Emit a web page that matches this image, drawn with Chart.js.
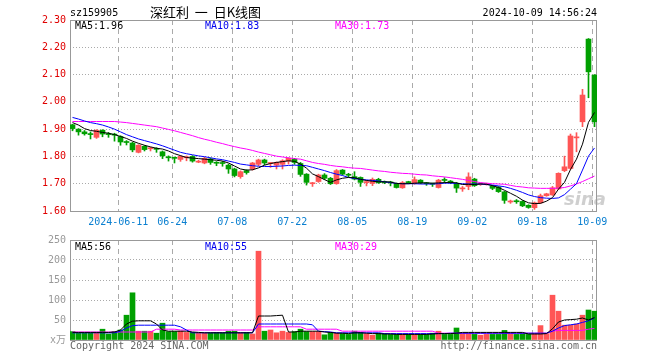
<!DOCTYPE html>
<html>
<head>
<meta charset="utf-8">
<script src="https://cdn.jsdelivr.net/npm/chart.js@4.4.1/dist/chart.umd.min.js"></script>
<style>
  body { margin: 0; background: #fff; }
  #wrap { position: relative; width: 660px; height: 360px; overflow: hidden; background: #fff; }
  canvas { position: absolute; left: 0; }
  .t { position: absolute; font: 10px/10px 'DejaVu Sans Mono', monospace; white-space: pre; color: #000; }
</style>
</head>
<body>
<div id="wrap">
  <canvas id="kline" width="660" height="230" style="top:0"></canvas>
  <canvas id="vol" width="660" height="130" style="top:230px"></canvas>
  <div class="t" style="left:70px;top:8px">sz159905</div>
  <div class="t" style="left:150px;top:5px;font:13px/13px 'Noto Sans CJK SC', sans-serif">深红利  一  日K线图</div>
  <div class="t" style="right:63px;top:8px">2024-10-09 14:56:24</div>
  <div class="t" id="pMa5" style="left:75px;top:21px"></div>
  <div class="t" id="pMa10" style="left:205px;top:21px;color:#0000ee"></div>
  <div class="t" id="pMa30" style="left:335px;top:21px;color:#ff00ff"></div>
  <div class="t" id="vMa5" style="left:75px;top:242px"></div>
  <div class="t" id="vMa10" style="left:205px;top:242px;color:#0000ee"></div>
  <div class="t" id="vMa30" style="left:335px;top:242px;color:#ff00ff"></div>
  <div class="t" style="left:70px;top:341px;color:#666">Copyright 2024 SINA.COM</div>
  <div class="t" style="right:63px;top:341px;color:#666">http://finance.sina.com.cn</div>
  <div class="t" style="left:564px;top:190px;font:italic bold 18px/18px 'DejaVu Sans', sans-serif;color:rgba(160,160,160,0.5)">sina</div>
</div>
<script>
// trading days shown
const dates = [
  '2024-05-29','2024-05-30','2024-05-31','2024-06-03','2024-06-04','2024-06-05','2024-06-06','2024-06-07','2024-06-11','2024-06-12',
  '2024-06-13','2024-06-14','2024-06-17','2024-06-18','2024-06-19','2024-06-20','2024-06-21','2024-06-24','2024-06-25','2024-06-26',
  '2024-06-27','2024-06-28','2024-07-01','2024-07-02','2024-07-03','2024-07-04','2024-07-05','2024-07-08','2024-07-09','2024-07-10',
  '2024-07-11','2024-07-12','2024-07-15','2024-07-16','2024-07-17','2024-07-18','2024-07-19','2024-07-22','2024-07-23','2024-07-24',
  '2024-07-25','2024-07-26','2024-07-29','2024-07-30','2024-07-31','2024-08-01','2024-08-02','2024-08-05','2024-08-06','2024-08-07',
  '2024-08-08','2024-08-09','2024-08-12','2024-08-13','2024-08-14','2024-08-15','2024-08-16','2024-08-19','2024-08-20','2024-08-21',
  '2024-08-22','2024-08-23','2024-08-26','2024-08-27','2024-08-28','2024-08-29','2024-08-30','2024-09-02','2024-09-03','2024-09-04',
  '2024-09-05','2024-09-06','2024-09-09','2024-09-10','2024-09-11','2024-09-12','2024-09-13','2024-09-18','2024-09-19','2024-09-20',
  '2024-09-23','2024-09-24','2024-09-25','2024-09-26','2024-09-27','2024-09-30','2024-10-08','2024-10-09'
];

const open = [
  1.916,1.900,1.890,1.883,1.870,1.896,1.882,1.880,1.873,1.853,
  1.849,1.815,1.837,1.828,1.829,1.817,1.797,1.795,1.789,1.795,
  1.800,1.779,1.776,1.791,1.777,1.776,1.768,1.754,1.726,1.748,
  1.754,1.771,1.787,1.774,1.768,1.771,1.783,1.790,1.774,1.735,
  1.700,1.708,1.732,1.720,1.700,1.750,1.733,1.726,1.723,1.704,
  1.701,1.716,1.706,1.704,1.701,1.685,1.705,1.700,1.713,1.702,
  1.700,1.686,1.714,1.708,1.702,1.681,1.690,1.717,1.698,1.697,
  1.692,1.688,1.670,1.633,1.636,1.635,1.621,1.612,1.630,1.656,
  1.659,1.681,1.748,1.756,1.868,1.927,2.230,2.098
];
const high = [
  1.918,1.902,1.895,1.890,1.898,1.898,1.888,1.885,1.876,1.858,
  1.852,1.843,1.840,1.834,1.832,1.820,1.802,1.798,1.803,1.802,
  1.803,1.786,1.797,1.794,1.781,1.782,1.772,1.757,1.747,1.751,
  1.778,1.790,1.790,1.778,1.780,1.788,1.795,1.793,1.778,1.737,
  1.705,1.735,1.737,1.723,1.752,1.752,1.738,1.744,1.725,1.712,
  1.721,1.720,1.710,1.709,1.703,1.708,1.709,1.725,1.715,1.705,
  1.702,1.716,1.722,1.712,1.705,1.690,1.740,1.720,1.703,1.702,
  1.694,1.690,1.672,1.640,1.642,1.638,1.623,1.633,1.662,1.665,
  1.690,1.740,1.801,1.882,1.887,2.046,2.232,2.100
];
const low = [
  1.894,1.878,1.878,1.864,1.866,1.872,1.870,1.856,1.841,1.842,
  1.817,1.813,1.820,1.820,1.815,1.792,1.783,1.776,1.782,1.784,
  1.779,1.777,1.773,1.771,1.766,1.764,1.738,1.725,1.720,1.735,
  1.750,1.766,1.769,1.760,1.754,1.754,1.772,1.771,1.727,1.695,
  1.690,1.705,1.715,1.697,1.698,1.732,1.725,1.714,1.690,1.692,
  1.693,1.701,1.700,1.692,1.684,1.683,1.700,1.698,1.700,1.694,
  1.690,1.684,1.703,1.700,1.668,1.672,1.678,1.690,1.694,1.695,
  1.678,1.668,1.628,1.628,1.628,1.616,1.610,1.606,1.628,1.654,
  1.657,1.679,1.744,1.752,1.817,1.909,2.015,1.909
];
const close = [
  1.902,1.890,1.883,1.880,1.896,1.882,1.880,1.878,1.853,1.851,
  1.824,1.841,1.825,1.830,1.826,1.802,1.795,1.793,1.800,1.797,
  1.783,1.781,1.793,1.778,1.775,1.774,1.754,1.730,1.744,1.741,
  1.776,1.787,1.776,1.776,1.778,1.784,1.793,1.778,1.734,1.705,
  1.702,1.732,1.720,1.700,1.748,1.735,1.731,1.717,1.705,1.706,
  1.716,1.704,1.704,1.703,1.686,1.704,1.704,1.715,1.703,1.700,
  1.698,1.713,1.712,1.706,1.684,1.683,1.725,1.693,1.700,1.699,
  1.683,1.671,1.639,1.635,1.634,1.619,1.613,1.630,1.656,1.663,
  1.685,1.738,1.762,1.875,1.870,2.025,2.110,1.927
];

// price moving averages
const ma5 = [
  1.924,1.915,1.902,1.895,1.892,1.888,1.885,1.880,1.873,1.866,
  1.856,1.848,1.841,1.835,1.830,1.827,1.820,1.810,1.803,1.796,
  1.794,1.792,1.790,1.788,1.786,1.783,1.776,1.765,1.754,1.750,
  1.751,1.758,1.768,1.774,1.778,1.781,1.784,1.782,1.772,1.757,
  1.736,1.726,1.715,1.705,1.714,1.720,1.723,1.722,1.716,1.712,
  1.709,1.707,1.707,1.706,1.701,1.700,1.700,1.702,1.703,1.703,
  1.702,1.703,1.704,1.705,1.703,1.697,1.698,1.697,1.699,1.698,
  1.693,1.686,1.676,1.665,1.654,1.640,1.630,1.627,1.628,1.636,
  1.649,1.680,1.705,1.752,1.790,1.845,1.925,1.961
];
const ma10 = [
  1.943,1.937,1.930,1.924,1.920,1.915,1.908,1.900,1.890,1.880,
  1.872,1.864,1.858,1.852,1.846,1.839,1.831,1.823,1.815,1.810,
  1.806,1.802,1.799,1.795,1.791,1.788,1.783,1.778,1.772,1.769,
  1.766,1.764,1.763,1.763,1.764,1.765,1.767,1.768,1.767,1.766,
  1.760,1.754,1.748,1.741,1.735,1.730,1.723,1.719,1.716,1.714,
  1.712,1.710,1.707,1.704,1.701,1.700,1.700,1.700,1.699,1.699,
  1.699,1.700,1.702,1.702,1.701,1.700,1.699,1.699,1.699,1.697,
  1.695,1.692,1.689,1.683,1.676,1.668,1.659,1.653,1.649,1.647,
  1.646,1.648,1.660,1.680,1.700,1.750,1.801,1.831
];
const ma30 = [
  1.928,1.928,1.928,1.928,1.928,1.928,1.928,1.928,1.926,1.924,
  1.921,1.918,1.915,1.912,1.909,1.904,1.899,1.894,1.888,1.882,
  1.876,1.869,1.863,1.858,1.852,1.847,1.841,1.836,1.831,1.827,
  1.822,1.816,1.811,1.806,1.801,1.798,1.795,1.792,1.790,1.784,
  1.778,1.774,1.771,1.767,1.764,1.762,1.759,1.757,1.756,1.753,
  1.750,1.747,1.745,1.742,1.740,1.738,1.737,1.735,1.733,1.732,
  1.729,1.727,1.725,1.722,1.719,1.716,1.712,1.708,1.704,1.702,
  1.700,1.699,1.698,1.694,1.690,1.688,1.685,1.684,1.683,1.683,
  1.683,1.684,1.686,1.692,1.699,1.708,1.718,1.728
];

// volume (x万) and its moving averages
const volume = [
  21,17,17,17,19,27,15,21,25,62,
  118,22,22,22,17,42,21,21,22,19,
  19,17,17,18,19,18,22,22,18,19,
  15,222,22,25,18,22,19,21,27,21,
  21,21,13,19,17,16,14,22,19,16,
  12,17,16,14,14,14,14,14,14,14,
  17,22,14,14,30,16,16,14,12,14,
  14,14,24,16,14,16,14,16,36,16,
  112,72,37,37,40,62,75,72
];
const volMa5 = [
  19,19,19,19,19,19,19,20,25,40,
  47,48,48,48,40,25,22,22,22,22,
  20,19,18,18,18,18,18,18,18,18,
  18,60,60,60,61,62,20,20,22,22,
  22,22,20,19,17,17,16,18,18,17,
  16,16,15,15,14,14,14,14,14,14,
  15,16,16,16,17,19,19,19,19,19,
  19,19,19,19,19,19,15,15,15,16,
  28,45,50,51,52,55,50,56
];
const volMa10 = [
  18,18,18,18,18,18,18,18,22,30,
  36,37,37,37,37,37,37,37,33,25,
  18,18,18,18,18,18,18,18,18,18,
  18,40,40,40,40,40,40,40,40,40,
  38,22,21,20,18,18,18,18,18,18,
  18,18,16,16,16,16,16,16,16,16,
  16,16,16,17,17,17,17,17,17,17,
  17,17,17,17,17,17,17,17,17,17,
  22,30,36,38,40,44,48,55
];
const volMa30 = [
  20,20,20,20,20,20,20,20,20,20,
  20,20,20,20,27,27,27,27,25,25,
  25,25,25,25,25,25,25,25,25,25,
  25,33,33,33,33,33,33,33,33,27,
  27,27,27,27,27,22,22,22,22,22,
  22,22,22,22,22,22,22,22,22,22,
  22,17,17,17,17,17,17,17,17,17,
  17,17,17,17,17,17,17,17,17,17,
  22,24,24,24,24,24,27,29
];

const tickDates = ['2024-06-11','2024-06-24','2024-07-08','2024-07-22','2024-08-05','2024-08-19','2024-09-02','2024-09-18','2024-10-09'];
const tickLabels = ['2024-06-11','06-24','07-08','07-22','08-05','08-19','09-02','09-18','10-09'];

const UP = '#ff5555';
const DOWN = '#00a000';
const MONO = "'DejaVu Sans Mono', 'Noto Sans CJK SC', monospace";

const colors = close.map((c, i) => c >= open[i] ? UP : DOWN);
const tickPos = tickDates.map(d => dates.indexOf(d) - 0.37);
const pts = arr => arr.map((v, i) => ({ x: i, y: v }));

document.getElementById('pMa5').textContent = 'MA5:' + ma5[ma5.length - 1].toFixed(2);
document.getElementById('pMa10').textContent = 'MA10:' + ma10[ma10.length - 1].toFixed(2);
document.getElementById('pMa30').textContent = 'MA30:' + ma30[ma30.length - 1].toFixed(2);
document.getElementById('vMa5').textContent = 'MA5:' + volMa5[volMa5.length - 1];
document.getElementById('vMa10').textContent = 'MA10:' + volMa10[volMa10.length - 1];
document.getElementById('vMa30').textContent = 'MA30:' + volMa30[volMa30.length - 1];

// gray frame round each panel
const frame = {
  id: 'frame',
  beforeDatasetsDraw(chart) {
    const { ctx, chartArea: a } = chart;
    ctx.save();
    ctx.strokeStyle = '#999';
    ctx.lineWidth = 1;
    ctx.strokeRect(a.left + 0.5, a.top + 0.5, a.right - a.left - 1, a.bottom - a.top);
    ctx.restore();
  }
};

function xAxis(showLabels) {
  return {
    type: 'linear',
    bounds: 'data',
    min: -0.4167,
    max: 87.417,
    offset: false,
    afterBuildTicks: s => { s.ticks = tickPos.map(v => ({ value: v })); },
    afterFit: s => { s.height = showLabels ? 19 : 0; },
    grid: { offset: false, drawTicks: false, color: '#aaa', lineWidth: 1 },
    border: { display: false, dash: [5, 4] },
    ticks: {
      display: showLabels, autoSkip: false, maxRotation: 0, padding: 5,
      color: '#0a7fd0', font: { family: MONO, size: 10 },
      callback: (v, k) => tickLabels[k]
    }
  };
}

function maLine(data, color) {
  return { type: 'line', data: pts(data), borderColor: color, borderWidth: 1,
           pointRadius: 0, tension: 0, order: 0 };
}

new Chart(document.getElementById('kline'), {
  type: 'bar',
  data: {
    datasets: [
      maLine(ma5, '#000000'),
      maLine(ma10, '#0000ff'),
      maLine(ma30, '#ff00ff'),
      { // wicks
        data: dates.map((d, i) => ({ x: i, y: [low[i], high[i]] })),
        backgroundColor: colors, barThickness: 1, grouped: false, order: 2
      },
      { // bodies
        data: dates.map((d, i) => ({ x: i, y: [open[i], close[i]] })),
        backgroundColor: colors, barThickness: 5, minBarLength: 1, grouped: false, order: 1
      }
    ]
  },
  options: {
    responsive: false,
    animation: false,
    layout: { padding: { top: 20, right: 63, left: 0, bottom: 0 } },
    plugins: { legend: { display: false }, tooltip: { enabled: false } },
    scales: {
      x: xAxis(true),
      y: {
        min: 1.6, max: 2.3,
        afterFit: s => { s.width = 70; },
        grid: { drawTicks: false, color: c => (c.tick && c.tick.value > 1.61 && c.tick.value < 2.29) ? '#aaa' : 'rgba(0,0,0,0)' },
        border: { display: false, dash: [1, 2] },
        ticks: { stepSize: 0.1, padding: 4, color: '#e00000', font: { family: MONO, size: 10 },
                 callback: v => v.toFixed(2) }
      }
    }
  },
  plugins: [frame]
});

new Chart(document.getElementById('vol'), {
  type: 'bar',
  data: {
    datasets: [
      maLine(volMa5, '#000000'),
      maLine(volMa10, '#0000ff'),
      maLine(volMa30, '#ff00ff'),
      {
        data: pts(volume),
        backgroundColor: colors, barThickness: 5, grouped: false, order: 1
      }
    ]
  },
  options: {
    responsive: false,
    animation: false,
    layout: { padding: { top: 10, right: 63, left: 0, bottom: 20 } },
    plugins: { legend: { display: false }, tooltip: { enabled: false } },
    scales: {
      x: xAxis(false),
      y: {
        min: 0, max: 250,
        afterFit: s => { s.width = 70; },
        grid: { drawTicks: false, color: c => (c.tick && c.tick.value > 1 && c.tick.value < 249) ? '#aaa' : 'rgba(0,0,0,0)' },
        border: { display: false, dash: [1, 2] },
        ticks: { stepSize: 50, padding: 4, color: '#999', font: { family: MONO, size: 10 },
                 callback: v => v === 0 ? 'x万' : String(v) }
      }
    }
  },
  plugins: [frame]
});
</script>
</body>
</html>
